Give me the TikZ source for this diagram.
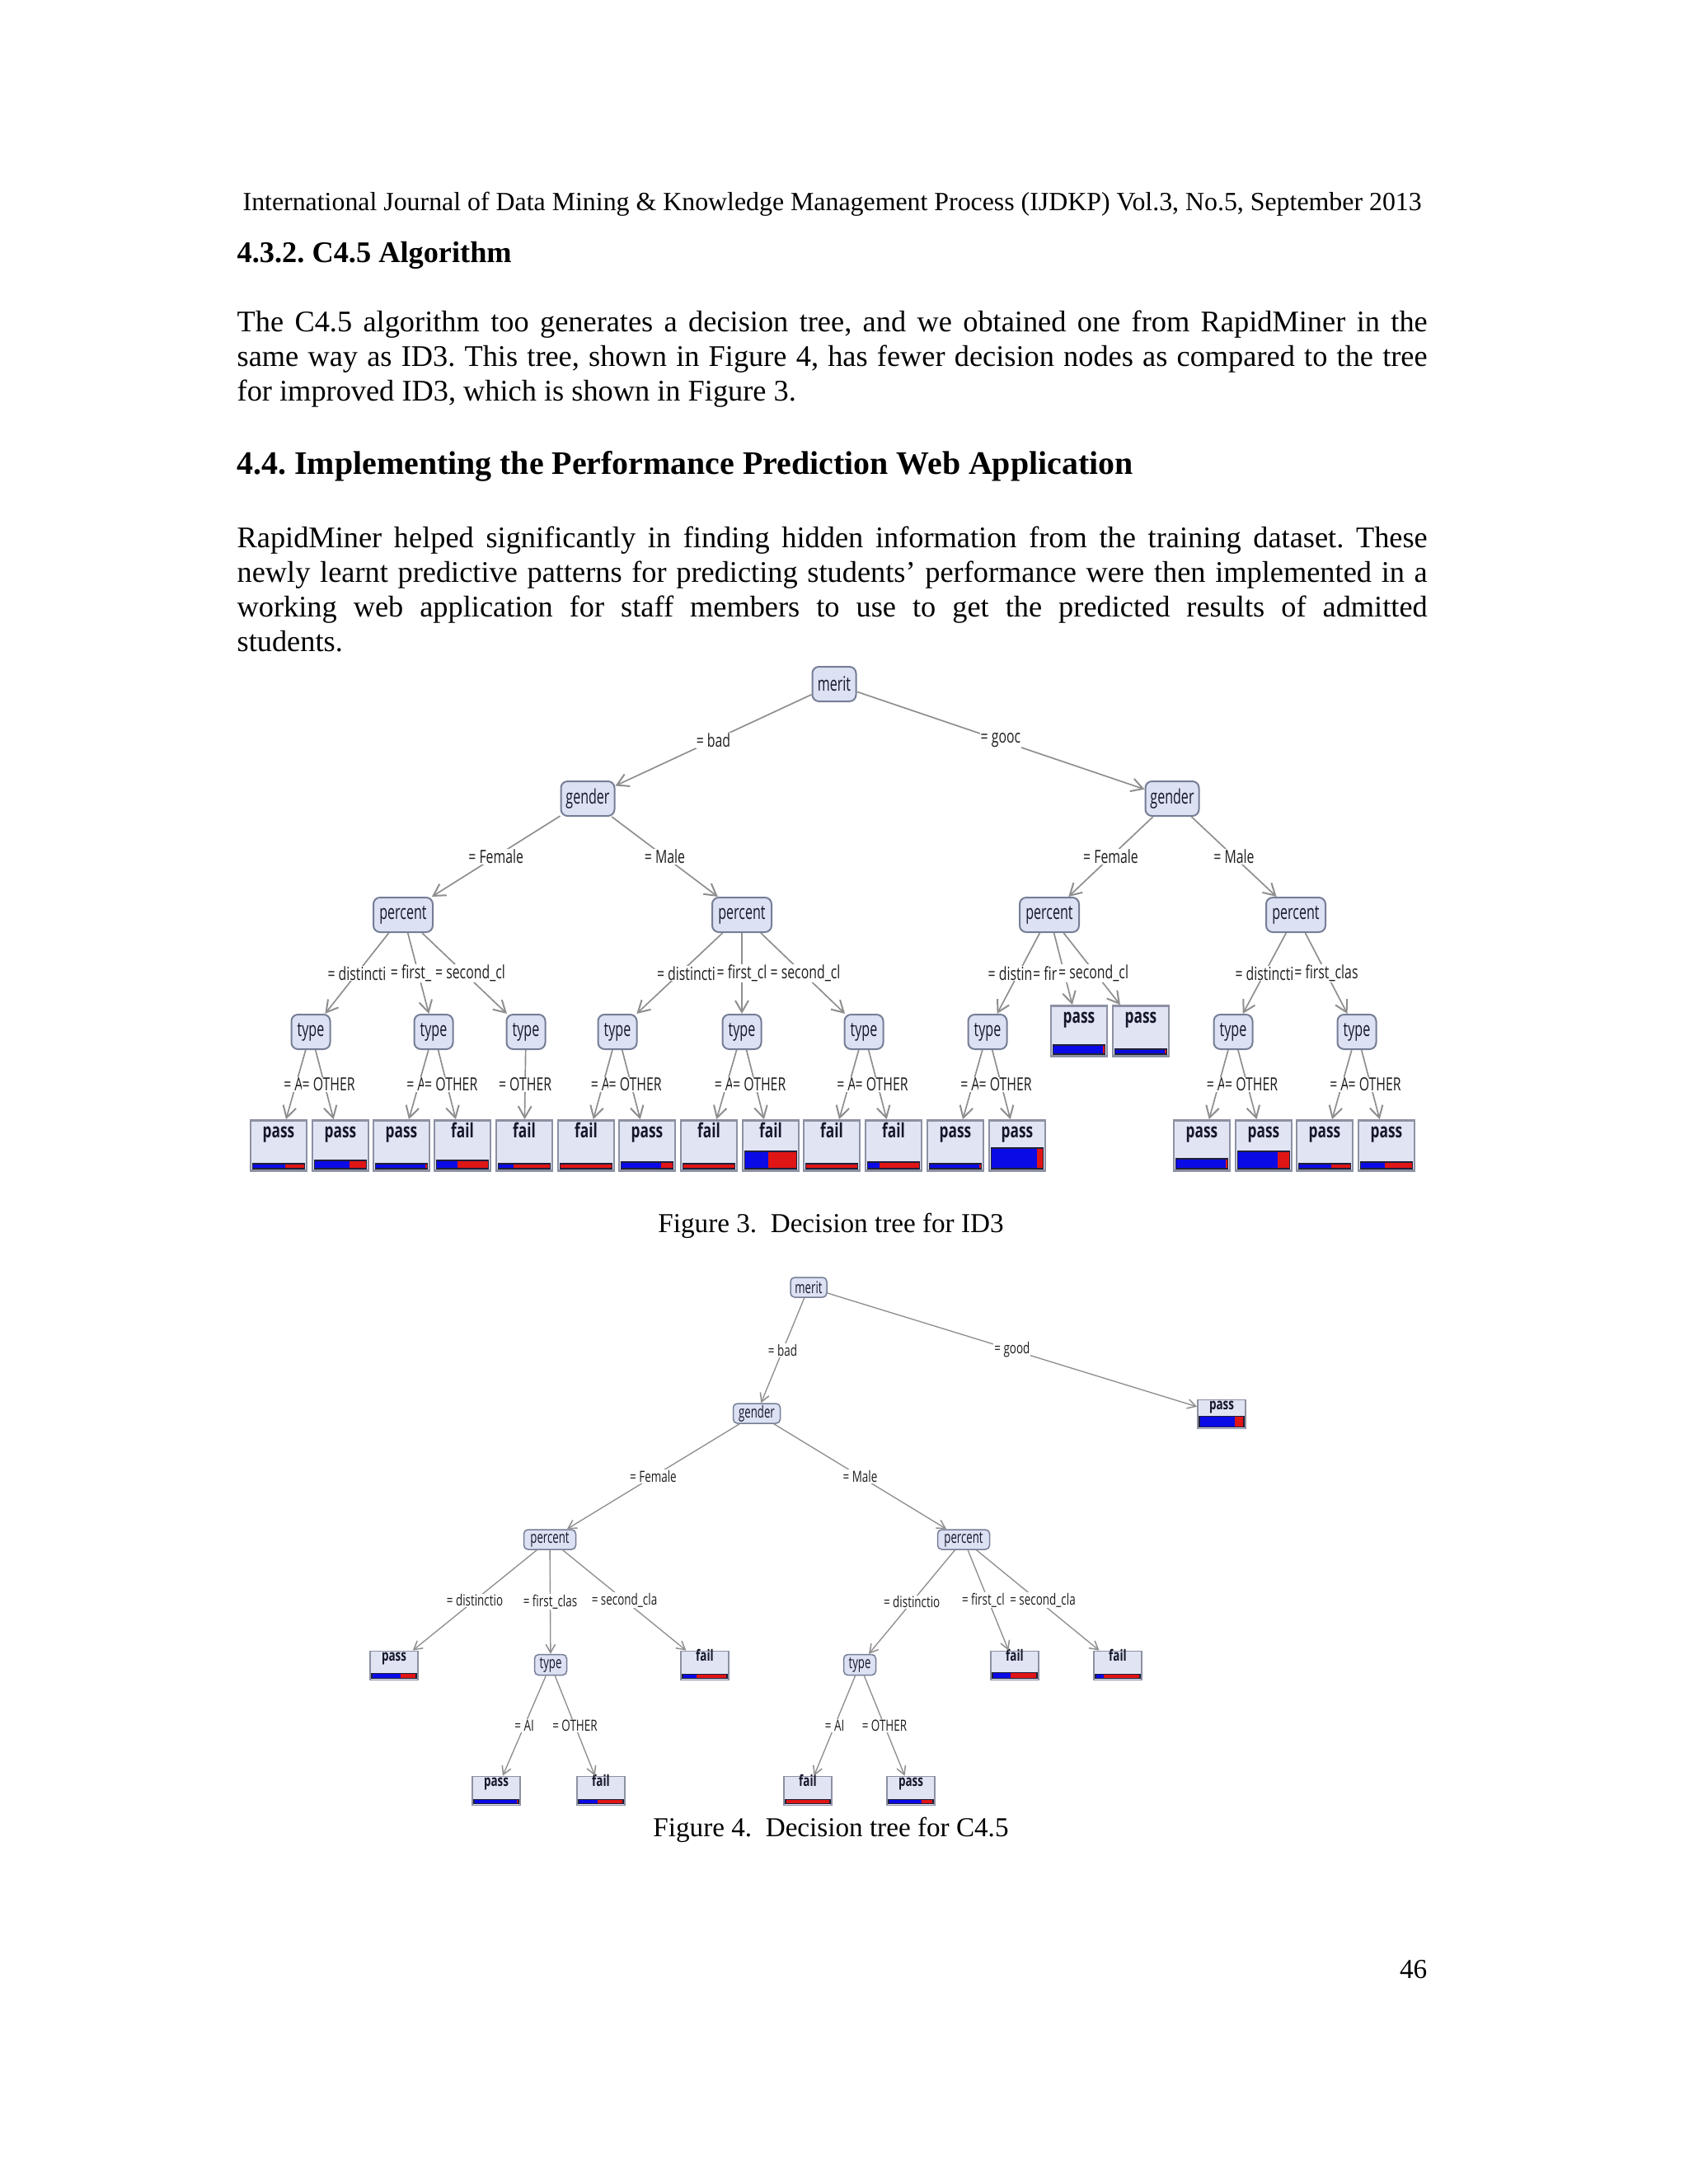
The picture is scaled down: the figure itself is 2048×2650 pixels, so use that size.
\documentclass[tikz,border=0pt]{standalone}
\usepackage{graphicx}
\usepackage{fontspec}
\setmainfont{Liberation Serif}
\newfontfamily\treefont[FakeStretch=0.72]{Open Sans}
\newfontfamily\treefontn[FakeStretch=0.66]{Open Sans}
\usetikzlibrary{arrows.meta,calc}
\newlength{\px}\setlength{\px}{0.298828bp}
\newcommand\bodyfnt{\fontsize{10.9}{12.5}\selectfont}
\frenchspacing
\definecolor{nfill}{HTML}{DCE1F3}
\definecolor{nborder}{HTML}{767E96}
\definecolor{lfill}{HTML}{E1E4F3}
\definecolor{lborder}{HTML}{8C91A3}
\definecolor{edgec}{HTML}{8E8E8E}
\definecolor{ntext}{HTML}{15172A}
\definecolor{ltext}{HTML}{1E1E1E}
\definecolor{bblue}{HTML}{0A0AE6}
\definecolor{bred}{HTML}{E01515}
\definecolor{bline}{HTML}{20203A}
\tikzset{
  bodytxt/.style={anchor=base west, inner sep=0pt, font=\bodyfnt},
  idn/.style={draw=nborder, fill=nfill, line width=0.6pt, rounded corners=2.4pt, inner sep=0pt,
    minimum height=42\px, text=ntext, font=\treefontn\fontsize{7.3}{8}\selectfont},
  cn/.style={idn, minimum height=24\px, rounded corners=1.5pt, line width=0.45pt,
    font=\treefontn\fontsize{6}{6.5}\selectfont},
  idleafbox/.style={draw=lborder, fill=lfill, line width=0.8pt, minimum width=68\px,
    minimum height=61\px, inner sep=0pt},
  cleafbox/.style={idleafbox, minimum width=58\px, minimum height=35\px, line width=0.55pt},
  idltxt/.style={anchor=base, inner sep=0pt, text=ntext, font=\treefont\bfseries\fontsize{7.2}{8}\selectfont},
  cltxt/.style={anchor=base, inner sep=0pt, text=ntext, font=\treefont\bfseries\fontsize{5.6}{6}\selectfont},
  ide/.style={draw=edgec, line width=0.5pt, -{Straight Barb[length=4.2pt,width=4.8pt,line width=0.6pt]}},
  ce/.style={draw=edgec, line width=0.4pt, -{Straight Barb[length=3pt,width=3.4pt,line width=0.45pt]}},
  idl/.style={fill=white, inner sep=0.3pt, text=ltext, font=\treefont\fontsize{6.6}{7}\selectfont},
  idla/.style={idl, xshift=-3\px},
  idlo/.style={idl, xshift=5\px},
  cl/.style={fill=white, inner sep=0.3pt, text=ltext, font=\treefont\fontsize{5.6}{6}\selectfont},
  barlinestyle/.style={draw=bline, line width=0.45pt}
}
% ID3 leaf: name, x, y, text, bar height, blue fraction
\newcommand\idleaf[6]{%
  \node[idleafbox] (#1) at (#2,#3) {};
  \node[idltxt] (#1t) at ($(#1.north)+(0,22)$) {#4};
  \pgfmathsetmacro\barw{60*#6}%
  \fill[bred] ($(#1.south west)+(4,-4)$) rectangle ($(#1.south east)+(-4,-4-#5)$);
  \fill[bblue] ($(#1.south west)+(4,-4)$) rectangle ++(\barw,-#5);
  \draw[barlinestyle] ($(#1.south west)+(4,-4)$) rectangle ($(#1.south east)+(-4,-4-#5)$);
}
% C4.5 leaf
\newcommand\cleaf[6]{%
  \node[cleafbox] (#1) at (#2,#3) {};
  \node[cltxt] (#1t) at ($(#1.north)+(0,13)$) {#4};
  \pgfmathsetmacro\barw{52*#6}%
  \fill[bred] ($(#1.south west)+(3,-3)$) rectangle ($(#1.south east)+(-3,-3-#5)$);
  \fill[bblue] ($(#1.south west)+(3,-3)$) rectangle ++(\barw,-#5);
  \draw[barlinestyle] ($(#1.south west)+(3,-3)$) rectangle ($(#1.south east)+(-3,-3-#5)$);
}
\begin{document}
\begin{tikzpicture}[x=\px, y=-\px]
\useasboundingbox (0,0) rectangle (2048,2650);
\fill[white] (0,0) rectangle (2048,2650);

% ---------- text ----------
\node[anchor=base west, inner sep=0pt] (hdr) at (294,255)
  {\resizebox{1430\px}{!}{\fontsize{10}{12}\selectfont International Journal of Data Mining \& Knowledge Management Process (IJDKP) Vol.3, No.5, September 2013}};
\node[anchor=base west, inner sep=0pt, font=\fontsize{10.9}{13}\selectfont\bfseries] (h1) at (287,318) {4.3.2. C4.5 Algorithm};
\node[bodytxt] (p1a) at (287,402) {\makebox[1444\px][s]{The C4.5 algorithm too generates a decision tree, and we obtained one from RapidMiner in the}};
\node[bodytxt] (p1b) at (287,444) {\makebox[1444\px][s]{same way as ID3. This tree, shown in Figure 4, has fewer decision nodes as compared to the tree}};
\node[bodytxt] (p1c) at (287,486) {for improved ID3, which is shown in Figure 3.};
\node[anchor=base west, inner sep=0pt, font=\fontsize{11.96}{14}\selectfont\bfseries] (h2) at (287,575) {4.4. Implementing the Performance Prediction Web Application};
\node[bodytxt] (p2a) at (287,664) {\makebox[1444\px][s]{RapidMiner helped significantly in finding hidden information from the training dataset. These}};
\node[bodytxt] (p2b) at (287,706) {\makebox[1444\px][s]{newly learnt predictive patterns for predicting students’ performance were then implemented in a}};
\node[bodytxt] (p2c) at (287,748) {\makebox[1444\px][s]{working web application for staff members to use to get the predicted results of admitted}};
\node[bodytxt] (p2d) at (287,790) {students.};
\node[anchor=base, inner sep=0pt, font=\fontsize{9.95}{12}\selectfont] (cap3) at (1008,1495) {Figure 3.~~Decision tree for ID3};
\node[anchor=base, inner sep=0pt, font=\fontsize{9.95}{12}\selectfont] (cap4) at (1008,2228) {Figure 4.~~Decision tree for C4.5};
\node[anchor=base east, inner sep=0pt, font=\fontsize{10}{12}\selectfont] (pg) at (1732,2400) {46};

% ---------- Figure 3: ID3 ----------
\node[idn, minimum width=53\px] (m) at (1012,830) {merit};
\node[idn, minimum width=65\px] (gL) at (713,969) {gender};
\node[idn, minimum width=65\px] (gR) at (1422,969) {gender};
\node[idn, minimum width=72\px] (pLL) at (489,1110) {percent};
\node[idn, minimum width=72\px] (pLM) at (900,1110) {percent};
\node[idn, minimum width=72\px] (pRF) at (1273,1110) {percent};
\node[idn, minimum width=72\px] (pRM) at (1572,1110) {percent};
\node[idn, minimum width=47\px] (t1) at (377,1252) {type};
\node[idn, minimum width=47\px] (t2) at (526,1252) {type};
\node[idn, minimum width=47\px] (t3) at (638,1252) {type};
\node[idn, minimum width=47\px] (t4) at (749,1252) {type};
\node[idn, minimum width=47\px] (t5) at (900,1252) {type};
\node[idn, minimum width=47\px] (t6) at (1048,1252) {type};
\node[idn, minimum width=47\px] (t7) at (1198,1252) {type};
\node[idn, minimum width=47\px] (t8) at (1496,1252) {type};
\node[idn, minimum width=47\px] (t9) at (1646,1252) {type};
\idleaf{lp1}{1309}{1251}{pass}{11}{1}
\idleaf{lp2}{1384}{1251}{pass}{6}{1}
\idleaf{l1}{338}{1390}{pass}{6}{0.66}
\idleaf{l2}{413}{1390}{pass}{10}{0.71}
\idleaf{l3}{487}{1390}{pass}{6}{1}
\idleaf{l4}{561}{1390}{fail}{10}{0.43}
\idleaf{l5}{636}{1390}{fail}{6}{0.31}
\idleaf{l6}{711}{1390}{fail}{6}{0}
\idleaf{l7}{785}{1390}{pass}{8}{0.81}
\idleaf{l8}{860}{1390}{fail}{6}{0}
\idleaf{l9}{935}{1390}{fail}{21}{0.47}
\idleaf{l10}{1009}{1390}{fail}{6}{0}
\idleaf{l11}{1084}{1390}{fail}{8}{0.24}
\idleaf{l12}{1159}{1390}{pass}{6}{1}
\idleaf{l13}{1234}{1390}{pass}{25}{0.93}
\idleaf{l14}{1458}{1390}{pass}{12}{1}
\idleaf{l15}{1533}{1390}{pass}{21}{0.8}
\idleaf{l16}{1607}{1390}{pass}{6}{0.65}
\idleaf{l17}{1682}{1390}{pass}{8}{0.49}

\draw[ide] (m) -- node[idl]{= bad} (gL);
\draw[ide] (m) -- node[idl]{= gooc} (gR);
\draw[ide] (gL) -- node[idl]{= Female} (pLL);
\draw[ide] (gL) -- node[idl]{= Male} (pLM);
\draw[ide] (gR) -- node[idl]{= Female} (pRF);
\draw[ide] (gR) -- node[idl]{= Male} (pRM);
\draw[ide] (pLL) -- node[idl]{= distincti} (t1);
\draw[ide] (pLL) -- node[idl, xshift=-9\px]{= first\_} (t2);
\draw[ide] (pLL) -- node[idl, xshift=7\px]{= second\_cl} (t3);
\draw[ide] (pLM) -- node[idl, xshift=8\px]{= distincti} (t4);
\draw[ide] (pLM) -- node[idl]{= first\_cl} (t5);
\draw[ide] (pLM) -- node[idl, xshift=3\px]{= second\_cl} (t6);
\draw[ide] (pRF) -- node[idl, xshift=-10\px]{= distin} (t7);
\draw[ide] (pRF) -- node[idl, xshift=-22\px, yshift=-5\px]{= fir} (lp1);
\draw[ide] (pRF) -- node[idl, xshift=2\px, yshift=-5\px]{= second\_cl} (lp2);
\draw[ide] (pRM) -- node[idl]{= distincti} (t8);
\draw[ide] (pRM) -- node[idl]{= first\_clas} (t9);
\draw[ide] (t1) -- node[idla]{= A} (l1);
\draw[ide] (t1) -- node[idlo]{= OTHER} (l2);
\draw[ide] (t2) -- node[idla]{= A} (l3);
\draw[ide] (t2) -- node[idlo]{= OTHER} (l4);
\draw[ide] (t3) -- node[idl]{= OTHER} (l5);
\draw[ide] (t4) -- node[idla]{= A} (l6);
\draw[ide] (t4) -- node[idlo]{= OTHER} (l7);
\draw[ide] (t5) -- node[idla]{= A} (l8);
\draw[ide] (t5) -- node[idlo]{= OTHER} (l9);
\draw[ide] (t6) -- node[idla]{= A} (l10);
\draw[ide] (t6) -- node[idlo]{= OTHER} (l11);
\draw[ide] (t7) -- node[idla]{= A} (l12);
\draw[ide] (t7) -- node[idlo]{= OTHER} (l13);
\draw[ide] (t8) -- node[idla]{= A} (l14);
\draw[ide] (t8) -- node[idlo]{= OTHER} (l15);
\draw[ide] (t9) -- node[idla]{= A} (l16);
\draw[ide] (t9) -- node[idlo]{= OTHER} (l17);

% ---------- Figure 4: C4.5 ----------
\node[cn, minimum width=44\px] (cm) at (981,1562) {merit};
\node[cn, minimum width=57\px] (cg) at (918,1715) {gender};
\cleaf{cp0}{1482}{1716}{pass}{13}{0.82}
\node[cn, minimum width=63\px] (cpL) at (667,1868) {percent};
\node[cn, minimum width=63\px] (cpR) at (1169,1868) {percent};
\cleaf{cl1}{478}{2021}{pass}{6}{0.68}
\node[cn, minimum width=39\px, minimum height=25\px] (ctL) at (668,2020) {type};
\cleaf{cl2}{855}{2021}{fail}{5}{0.32}
\node[cn, minimum width=39\px, minimum height=25\px] (ctR) at (1043,2020) {type};
\cleaf{cl3}{1231}{2021}{fail}{7}{0.42}
\cleaf{cl4}{1356}{2021}{fail}{5}{0.19}
\cleaf{cl5}{602}{2173}{pass}{5}{1}
\cleaf{cl6}{729}{2173}{fail}{5}{0.45}
\cleaf{cl7}{980}{2173}{fail}{5}{0}
\cleaf{cl8}{1105}{2173}{pass}{5}{0.77}

\draw[ce] (cm) -- node[cl]{= bad} (cg);
\draw[ce] (cm) -- node[cl]{= good} (cp0);
\draw[ce] (cg) -- node[cl]{= Female} (cpL);
\draw[ce] (cg) -- node[cl]{= Male} (cpR);
\draw[ce] (cpL) -- node[cl]{= distinctio} (cl1);
\draw[ce] (cpL) -- node[cl]{= first\_clas} (ctL);
\draw[ce] (cpL) -- node[cl]{= second\_cla} (cl2);
\draw[ce] (cpR) -- node[cl]{= distinctio} (ctR);
\draw[ce] (cpR) -- node[cl, xshift=-6\px]{= first\_cl} (cl3);
\draw[ce] (cpR) -- node[cl, xshift=6\px]{= second\_cla} (cl4);
\draw[ce] (ctL) -- node[cl]{= AI} (cl5);
\draw[ce] (ctL) -- node[cl]{= OTHER} (cl6);
\draw[ce] (ctR) -- node[cl]{= AI} (cl7);
\draw[ce] (ctR) -- node[cl]{= OTHER} (cl8);
\end{tikzpicture}
\end{document}
